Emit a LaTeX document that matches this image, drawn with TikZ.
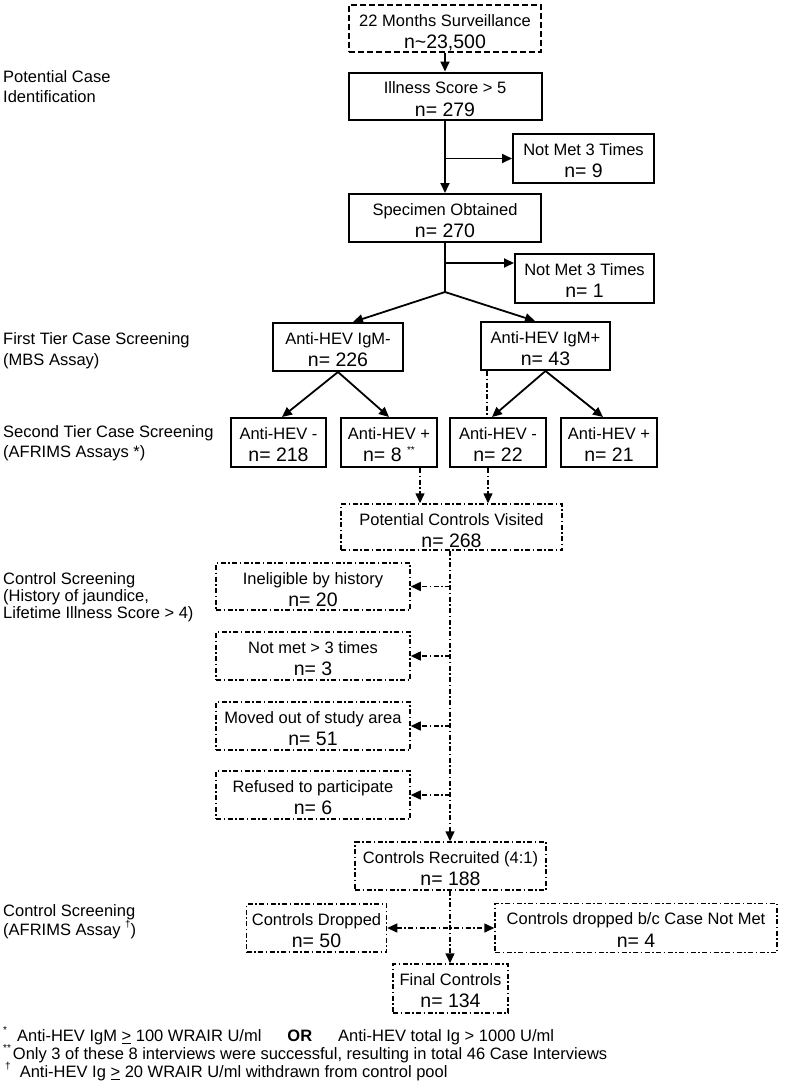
\documentclass[tikz,border=0pt]{standalone}
\usepackage{fontspec}
\setmainfont{Liberation Sans}
\usetikzlibrary{arrows.meta,calc}
\newcommand\fa{\fontsize{16.5}{19.5}\selectfont}
\newcommand\fb{\fontsize{19.5}{22}\selectfont}
\newcommand\bx[8]{%
  \node[#2, minimum width=#5pt, minimum height=#6pt] (#1) at (#3,#4) {};
  \node[anchor=base, font=\fa, inner sep=0] (#1-a) at ($(#1.north)+(0,22)$) {#7};
  \node[anchor=base, font=\fb, inner sep=0] (#1-b) at ($(#1.north)+(0,44.5)$) {#8};
}
\newcommand\sstar[1]{\raisebox{8pt}{\fontsize{10}{10}\selectfont #1}}
\begin{document}
\begin{tikzpicture}[x=1pt,y=-1pt,
  sbox/.style={draw, line width=2pt, inner sep=0},
  dbox/.style={draw, line width=1.8pt, dash pattern=on 6pt off 3pt, inner sep=0},
  cbox/.style={draw, line width=1.5pt, dash pattern=on 5pt off 2.5pt on 1.5pt off 2.5pt, inner sep=0},
  conn/.style={line width=1.8pt},
  dconn/.style={line width=1.5pt, dash pattern=on 5pt off 2.5pt on 1.5pt off 2.5pt},
  tip/.style={-{Triangle[length=10pt,width=9pt]}},
  lbl/.style={anchor=west, font=\fa, align=left, inner sep=0},
  fn/.style={anchor=west, font=\fa, inner sep=0},
]
\useasboundingbox (0,0) rectangle (785,1090);

% boxes
\bx{surv}{dbox}{445}{28.5}{192}{47}{22 Months Surveillance}{n\textasciitilde 23,500}
\bx{ill}{sbox}{445}{96}{193}{47}{Illness Score > 5}{n= 279}
\bx{nm1}{sbox}{583.5}{158.5}{141}{49}{Not Met 3 Times}{n= 9}
\bx{spec}{sbox}{445}{218}{192}{48}{Specimen Obtained}{n= 270}
\bx{nm2}{sbox}{584.5}{278.5}{139}{49}{Not Met 3 Times}{n= 1}
\bx{igmm}{sbox}{338}{347}{130}{48}{Anti-HEV IgM-}{n= 226}
\bx{igmp}{sbox}{545.5}{346}{129}{48}{Anti-HEV IgM+}{n= 43}
\bx{m218}{sbox}{278.5}{442.5}{95}{49}{Anti-HEV -}{n= 218}
\bx{a8}{sbox}{389}{442.5}{96}{49}{Anti-HEV +}{n= 8 \sstar{**}}
\bx{m22}{sbox}{498}{442.5}{96}{49}{Anti-HEV -}{n= 22}
\bx{a21}{sbox}{609}{442.5}{96}{49}{Anti-HEV +}{n= 21}
\bx{pot}{cbox}{451.5}{527}{221}{46}{Potential Controls Visited}{n= 268}
\bx{inel}{cbox}{313}{586.5}{194}{47}{Ineligible by history}{n= 20}
\bx{nm3}{cbox}{313}{656}{194}{48}{Not met > 3 times}{n= 3}
\bx{moved}{cbox}{313}{726}{194}{48}{Moved out of study area}{n= 51}
\bx{refu}{cbox}{313}{795}{194}{48}{Refused to participate}{n= 6}
\bx{rec}{cbox}{450.5}{866}{191}{48}{Controls Recruited (4:1)}{n= 188}
\bx{drop}{cbox}{316.5}{928}{140}{48}{Controls Dropped}{n= 50}
\bx{cbc}{cbox}{636}{928}{282}{49}{Controls dropped b/c Case Not Met}{n= 4}
\bx{fin}{cbox}{450.5}{988.5}{115}{49}{Final Controls}{n= 134}

% helper coordinates
\coordinate (j1) at (445,292);
\coordinate (b2) at (445,263);
\coordinate (xl) at (353,0);
\coordinate (xr) at (535,0);
\coordinate (x282) at (282,0);
\coordinate (x492) at (492,0);
\coordinate (x603) at (603,0);
\coordinate (xd) at (487,0);
\coordinate (x420) at (420,0);
\coordinate (x488) at (488,0);
\coordinate (x450) at (450,0);

% solid connectors
\draw[conn,tip] (surv.south) -- (ill.north);
\draw[conn,tip] (ill.south) -- (spec.north);
\draw[conn,tip] (ill.south |- nm1.west) -- (nm1.west);
\draw[conn] (spec.south) -- (j1);
\draw[conn,tip] (b2) -- (b2 -| nm2.west);
\draw[conn,tip] (j1) -- (igmm.north -| xl);
\draw[conn,tip] (j1) -- (igmp.north -| xr);
\draw[conn,tip] (igmm.south) -- (m218.north -| x282);
\draw[conn,tip] (igmm.south) -- (a8.north);
\draw[conn,tip] (igmp.south) -- (m22.north -| x492);
\draw[conn,tip] (igmp.south) -- (a21.north -| x603);

% dash-dot connectors
\draw[dconn] (igmp.south -| xd) -- (m22.north -| xd);
\draw[dconn,tip] (a8.south -| x420) -- (pot.north -| x420);
\draw[dconn,tip] (m22.south -| x488) -- (pot.north -| x488);
\draw[dconn,tip] (pot.south -| x450) -- (rec.north -| x450);
\draw[dconn,tip] (inel.east -| x450) -- (inel.east);
\draw[dconn,tip] (nm3.east -| x450) -- (nm3.east);
\draw[dconn,tip] (moved.east -| x450) -- (moved.east);
\draw[dconn,tip] (refu.east -| x450) -- (refu.east);
\draw[dconn,tip] (rec.south -| x450) -- (fin.north -| x450);
\draw[dconn,{Triangle[length=10pt,width=9pt]}-{Triangle[length=10pt,width=9pt]}] (drop.east) -- (cbc.west);

% left labels
\node[lbl, font=\fontsize{16.5}{19.5}\selectfont] (l1) at (3,86.5) {Potential Case\\Identification};
\node[lbl, font=\fontsize{16.5}{20.5}\selectfont] (l2) at (3,350.5) {First Tier Case Screening\\(MBS Assay)};
\node[lbl, font=\fontsize{16.5}{20}\selectfont] (l3) at (3,443) {Second Tier Case Screening\\(AFRIMS Assays *)};
\node[lbl, font=\fontsize{16.5}{16.8}\selectfont] (l4) at (3,597) {Control Screening\\(History of jaundice,\\Lifetime Illness Score > 4)};
\node[lbl, font=\fontsize{16.5}{19}\selectfont] (l5) at (3,921.5) {Control Screening\\(AFRIMS Assay \sstar{\dag})};

% footnotes
\node[fn] (f1) at (3,1036) {\sstar{*}\hspace{10pt}Anti-HEV IgM \underline{>} 100 WRAIR U/ml\hspace{26pt}\textbf{OR}\hspace{26pt}Anti-HEV total Ig > 1000 U/ml};
\node[fn] (f2) at (3,1054) {\sstar{**}\hspace{2pt}Only 3 of these 8 interviews were successful, resulting in total 46 Case Interviews};
\node[fn] (f3) at (5,1072) {\sstar{\dag}\hspace{9pt}Anti-HEV Ig \underline{>} 20 WRAIR U/ml withdrawn from control pool};
\end{tikzpicture}
\end{document}
